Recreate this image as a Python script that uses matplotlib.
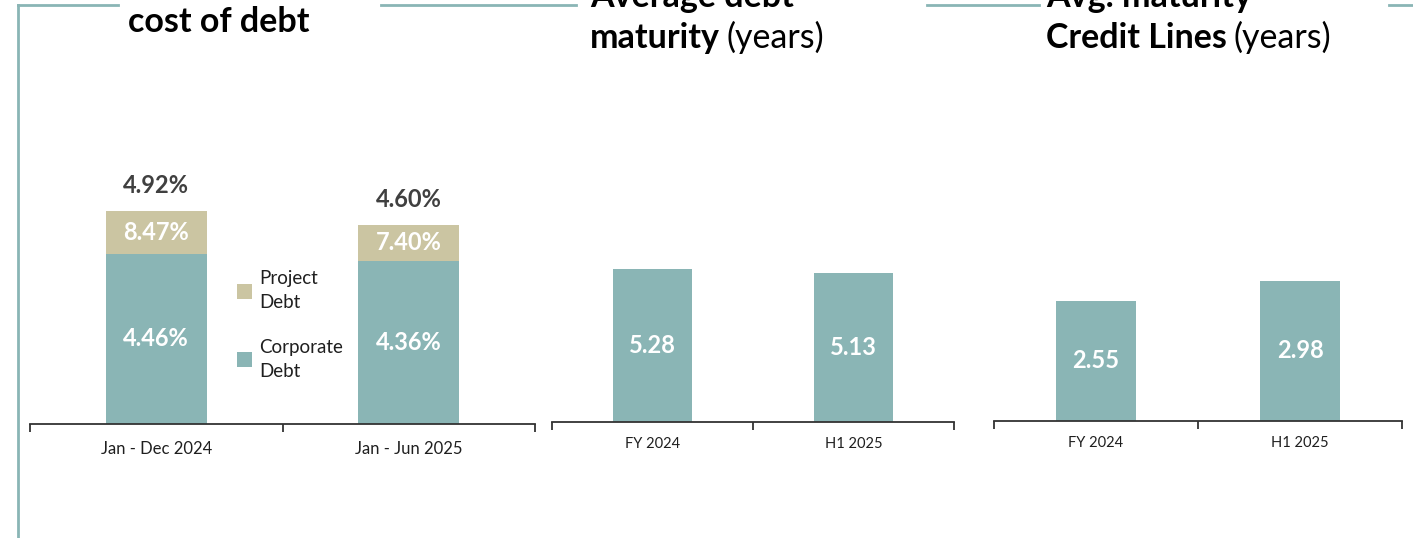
import matplotlib.pyplot as plt
from matplotlib.lines import Line2D
import numpy as np

# --- data ---
cost_periods = ["Jan - Dec 2024", "Jan - Jun 2025"]
blended_cost = [4.92, 4.60]          # total bar height / label
corporate_part = [3.93, 3.77]        # height of corporate segment
corporate_rate = ["4.46%", "4.36%"]
project_rate = ["8.47%", "7.40%"]

maturity_periods = ["FY 2024", "H1 2025"]
debt_maturity = [5.28, 5.13]
credit_maturity = [2.55, 2.98]

TEAL = "#8AB5B5"
KHAKI = "#CBC5A2"
DARK = "#404040"
TXT = "#1F1F1F"

plt.rcParams['font.family'] = ['Lato', 'DejaVu Sans']

W, H = 1413, 538
fig = plt.figure(figsize=(W / 100, H / 100), dpi=100)


def px_axes(left, right, base, height):
    return fig.add_axes([left / W, (H - base) / H, (right - left) / W, height / H])


def style_axis(ax, labels, fsize, pad):
    for s in ["top", "left", "right"]:
        ax.spines[s].set_visible(False)
    ax.spines["bottom"].set_color("#333333")
    ax.spines["bottom"].set_linewidth(1.3)
    ax.set_xlim(-0.5, 1.5)
    ax.set_yticks([])
    ax.set_xticks([0, 1])
    ax.set_xticklabels(labels, fontsize=fsize, color=TXT)
    ax.tick_params(axis="x", which="major", length=0, pad=pad)
    ax.set_xticks([-0.5, 0.5, 1.5], minor=True)
    ax.tick_params(axis="x", which="minor", length=6, width=1.3, color="#333333", direction="out")
    ax.patch.set_alpha(0)


# chart 1: weighted average cost of debt
ax1 = px_axes(30, 535, 424, 260)
x = np.arange(len(cost_periods))
project_part = [t - c for t, c in zip(blended_cost, corporate_part)]
b_corp = ax1.bar(x, corporate_part, width=0.40, color=TEAL, label="Corporate\nDebt")
b_proj = ax1.bar(x, project_part, width=0.40, bottom=corporate_part, color=KHAKI, label="Project\nDebt")
ax1.set_ylim(0, 6.0)
style_axis(ax1, cost_periods, 12, 12)
for i in range(len(x)):
    ax1.text(x[i], corporate_part[i] / 2, corporate_rate[i], ha="center", va="center",
             color="white", fontsize=17, fontweight="bold")
    ax1.text(x[i], corporate_part[i] + project_part[i] / 2, project_rate[i], ha="center", va="center",
             color="white", fontsize=17, fontweight="bold")
    ax1.annotate(f"{blended_cost[i]:.2f}%", (x[i], blended_cost[i]), xytext=(0, 18),
                 textcoords="offset points", ha="center", va="center",
                 color=DARK, fontsize=17, fontweight="bold")
leg = ax1.legend(handles=[b_proj, b_corp], loc="center left",
                 bbox_to_anchor=(229 / W, (H - 325) / H), bbox_transform=fig.transFigure,
                 frameon=False, fontsize=13.5, handlelength=0.85, handleheight=0.85,
                 handletextpad=0.35, labelspacing=1.45, borderaxespad=0)
for t in leg.get_texts():
    t.set_color(TXT)
    t.set_linespacing(1.5)

# chart 2: average debt maturity
ax2 = px_axes(552, 954, 422, 260)
ax2.bar(x, debt_maturity, width=0.39, color=TEAL)
ax2.set_ylim(0, 8.95)
style_axis(ax2, maturity_periods, 10.5, 11)
for i in range(len(x)):
    ax2.text(x[i], debt_maturity[i] / 2, f"{debt_maturity[i]:.2f}", ha="center", va="center",
             color="white", fontsize=17, fontweight="bold")

# chart 3: avg maturity credit lines
ax3 = px_axes(994, 1402, 421, 260)
ax3.bar(x, credit_maturity, width=0.39, color=TEAL)
ax3.set_ylim(0, 5.52)
style_axis(ax3, maturity_periods, 10.5, 11)
for i in range(len(x)):
    ax3.text(x[i], credit_maturity[i] / 2, f"{credit_maturity[i]:.2f}", ha="center", va="center",
             color="white", fontsize=17, fontweight="bold")

# decorative frame lines
frame_y = 1 - 5 / H
for x0, x1 in [(18, 118), (381, 576), (927, 1039), (1389, 1413)]:
    fig.add_artist(Line2D([x0 / W, x1 / W], [frame_y, frame_y], color=TEAL, lw=2))
fig.add_artist(Line2D([18 / W, 18 / W], [frame_y, 0], color=TEAL, lw=2))

# titles (bold part + regular part); top lines are clipped by the page edge as in the source
renderer = fig.canvas.get_renderer()


def title_line(left, baseline, bold, regular=""):
    t = fig.text(left / W, 1 - baseline / H, bold, fontsize=24.5, fontweight="bold",
                 color="black", va="baseline", ha="left")
    if regular:
        bb = t.get_window_extent(renderer)
        fig.text(bb.x1 / W + 7 / W, 1 - baseline / H, regular, fontsize=24.5,
                 color="black", va="baseline", ha="left")


title_line(128, 32, "cost of debt")
title_line(590, 7, "Average debt")
title_line(590, 48, "maturity", "(years)")
title_line(1046, 7, "Avg. maturity")
title_line(1046, 48, "Credit Lines", "(years)")

fig.savefig("out.png", dpi=100)
